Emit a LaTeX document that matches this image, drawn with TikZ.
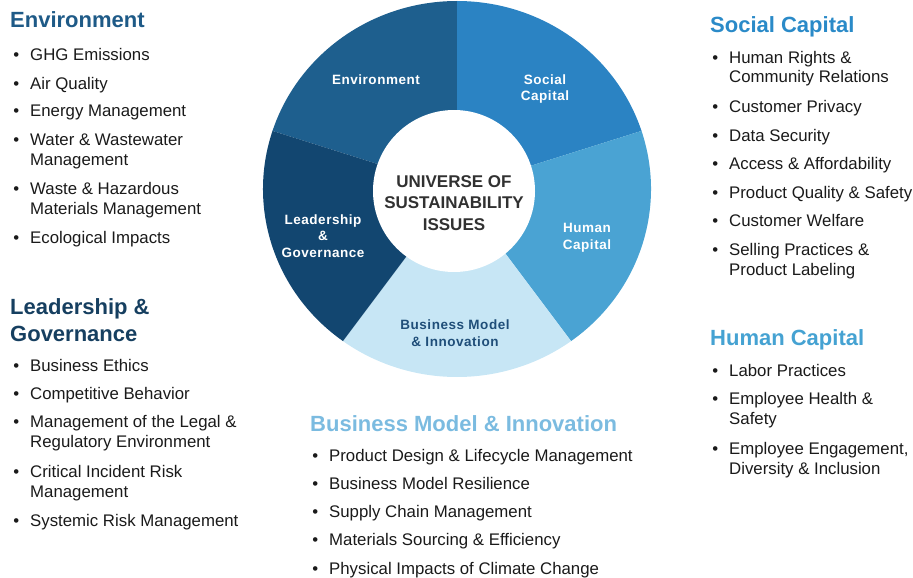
\documentclass[tikz,border=0pt]{standalone}
\usepackage{fontspec}
\setmainfont{Liberation Sans}
\newfontfamily\segfont[LetterSpace=4]{Liberation Sans}
\definecolor{envc}{HTML}{1E5F8E}
\definecolor{socc}{HTML}{2B83C3}
\definecolor{humc}{HTML}{4AA3D3}
\definecolor{busc}{HTML}{C7E6F5}
\definecolor{ledc}{HTML}{124670}
\definecolor{hEnv}{HTML}{1E5A87}
\definecolor{hLed}{HTML}{163F60}
\definecolor{hSoc}{HTML}{2A8AC8}
\definecolor{hHum}{HTML}{45A2D2}
\definecolor{hBus}{HTML}{7BBBE0}
\definecolor{txt}{HTML}{1A1A1A}
\definecolor{busl}{HTML}{1F4E79}
\newcommand\bul{\llap{\textbullet\hspace{11pt}}}
\begin{document}
\begin{tikzpicture}[x=1pt,y=-1pt,
  heading/.style={anchor=base west,inner sep=0pt,font=\fontsize{22}{27}\selectfont\bfseries,align=left},
  itm/.style={anchor=base west,inner sep=0pt,font=\fontsize{16.8}{19.5}\selectfont,text=txt,align=left},
  seglabel/.style={inner sep=0pt,font=\segfont\fontsize{13.5}{16.5}\selectfont\bfseries,text=white,align=center}]
\useasboundingbox (0,0) rectangle (913,578);
% donut
\coordinate (c) at (457,189);
\fill[envc] (c) -- ++(90:194pt and 188pt) arc[start angle=90,end angle=162,x radius=194pt,y radius=188pt] -- cycle;
\fill[socc] (c) -- ++(18:194pt and 188pt) arc[start angle=18,end angle=90,x radius=194pt,y radius=188pt] -- cycle;
\fill[humc] (c) -- ++(-54:194pt and 188pt) arc[start angle=-54,end angle=18,x radius=194pt,y radius=188pt] -- cycle;
\fill[busc] (c) -- ++(-126:194pt and 188pt) arc[start angle=-126,end angle=-54,x radius=194pt,y radius=188pt] -- cycle;
\fill[ledc] (c) -- ++(162:194pt and 188pt) arc[start angle=162,end angle=234,x radius=194pt,y radius=188pt] -- cycle;
\node[circle,fill=white,minimum size=162pt,inner sep=0pt] (core) at (454,191) {};
\node[inner sep=0pt,align=center,text=txt!90!white,font=\fontsize{17}{21.5}\selectfont\bfseries] (title) at (454,203) {UNIVERSE OF\\SUSTAINABILITY\\ISSUES};
% segment labels
\node[seglabel] (sEnv) at (376,80) {Environment};
\node[seglabel] (sSoc) at (545,89) {Social\\Capital};
\node[seglabel] (sHum) at (587,238) {Human\\Capital};
\node[seglabel,text=busl] (sBus) at (455,333) {Business Model\\\& Innovation};
\node[seglabel] (sLed) at (323,236) {Leadership\\\&\\Governance};
% Environment
\node[heading,text=hEnv] (hE) at (10,28) {Environment};
\node[itm] (e1) at (30,60) {\bul GHG Emissions};
\node[itm] (e2) at (30,89) {\bul Air Quality};
\node[itm] (e3) at (30,117) {\bul Energy Management};
\node[itm] (e4) at (30,165) {\bul Water \& Wastewater\\Management};
\node[itm] (e5) at (30,214) {\bul Waste \& Hazardous\\Materials Management};
\node[itm] (e6) at (30,243) {\bul Ecological Impacts};
% Leadership
\node[heading,text=hLed] (hL) at (10,341) {Leadership \&\\Governance};
\node[itm] (l1) at (30,371) {\bul Business Ethics};
\node[itm] (l2) at (30,399) {\bul Competitive Behavior};
\node[itm] (l3) at (30,447) {\bul Management of the Legal \&\\Regulatory Environment};
\node[itm] (l4) at (30,497) {\bul Critical Incident Risk\\Management};
\node[itm] (l5) at (30,526) {\bul Systemic Risk Management};
% Social Capital
\node[heading,text=hSoc] (hS) at (710,33) {Social Capital};
\node[itm] (s1) at (729,83) {\bul Human Rights \&\\Community Relations};
\node[itm] (s2) at (729,112) {\bul Customer Privacy};
\node[itm] (s3) at (729,141) {\bul Data Security};
\node[itm] (s4) at (729,169) {\bul Access \& Affordability};
\node[itm] (s5) at (729,198) {\bul Product Quality \& Safety};
\node[itm] (s6) at (729,226) {\bul Customer Welfare};
\node[itm] (s7) at (729,275) {\bul Selling Practices \&\\Product Labeling};
% Human Capital
\node[heading,text=hHum] (hH) at (710,345) {Human Capital};
\node[itm] (h1) at (729,376) {\bul Labor Practices};
\node[itm] (h2) at (729,424) {\bul Employee Health \&\\Safety};
\node[itm] (h3) at (729,474) {\bul Employee Engagement,\\Diversity \& Inclusion};
% Business Model
\node[heading,text=hBus] (hB) at (310,431) {Business Model \& Innovation};
\node[itm] (b1) at (329,461) {\bul Product Design \& Lifecycle Management};
\node[itm] (b2) at (329,489) {\bul Business Model Resilience};
\node[itm] (b3) at (329,517) {\bul Supply Chain Management};
\node[itm] (b4) at (329,545) {\bul Materials Sourcing \& Efficiency};
\node[itm] (b5) at (329,574) {\bul Physical Impacts of Climate Change};
\end{tikzpicture}
\end{document}
